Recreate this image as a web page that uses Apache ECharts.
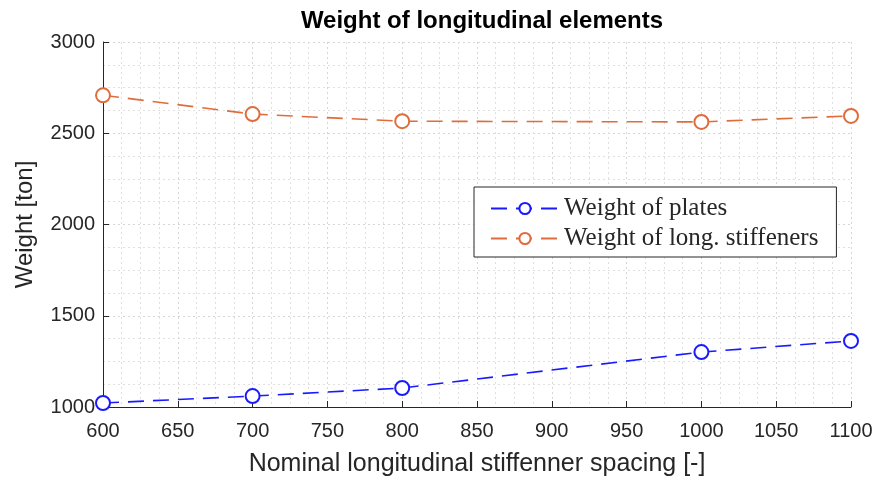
<!DOCTYPE html>
<html><head><meta charset="utf-8">
<script src="https://cdn.jsdelivr.net/npm/echarts@6/dist/echarts.min.js"></script>
<style>html,body{margin:0;padding:0;background:#fff}#c{width:877px;height:483px}</style>
</head><body><div id="c"></div>
<script>
const spacing = [600, 700, 800, 1000, 1100];
const platesWeight = [1022, 1060, 1104, 1301, 1362];
const stiffenersWeight = [2708, 2605, 2566, 2562, 2595];
const seriesNames = ['Weight of plates', 'Weight of long. stiffeners'];
const titleText = 'Weight of longitudinal elements';
const xAxisName = 'Nominal longitudinal stiffenner spacing [-]';
const yAxisName = 'Weight [ton]';

const chart = echarts.init(document.getElementById('c'));
const sans = 'Liberation Sans, Arial, sans-serif';
const axisCommon = {
  axisLine: {show: true, lineStyle: {color: '#262626', width: 1}},
  axisTick: {show: true, inside: true, length: 6, lineStyle: {color: '#262626'}},
  axisLabel: {color: '#262626', fontFamily: sans, fontSize: 20, formatter: v => String(v)},
  splitLine: {show: true, lineStyle: {color: '#d6d6d6', type: [2, 3], width: 1}},
  minorTick: {show: false, splitNumber: 4},
  minorSplitLine: {show: true, lineStyle: {color: '#e0e0e0', type: [2, 3], width: 1}},
  nameTextStyle: {color: '#262626', fontFamily: sans, fontSize: 24}
};
function mk(name, data, color) {
  return {
    name: name, type: 'line',
    data: spacing.map((x, i) => [x, data[i]]),
    symbol: 'emptyCircle', symbolSize: 14,
    showSymbol: true,
    lineStyle: {color: color, width: 1.6, type: [16, 9]},
    itemStyle: {color: color, borderColor: color, borderWidth: 1.6},
    emphasis: {disabled: true}
  };
}
chart.setOption({
  animation: false,
  backgroundColor: '#fff',
  title: {text: titleText, left: 477, top: 4, textAlign: 'center',
    textStyle: {fontFamily: sans, fontSize: 24, fontWeight: 'bold', color: '#000'}},
  grid: {left: 103, right: 26, top: 42, bottom: 76},
  legend: {
    orient: 'vertical', left: 474, top: 187,
    padding: [9, 18, 6, 16], itemGap: 5,
    itemWidth: 68, itemHeight: 14,
    borderColor: '#262626', borderWidth: 1, backgroundColor: '#fff', borderRadius: 0,
    textStyle: {fontFamily: 'Liberation Serif, Times New Roman, serif', fontSize: 25, color: '#262626'},
    data: seriesNames
  },
  xAxis: Object.assign({}, axisCommon, {
    type: 'value', min: 600, max: 1100, interval: 50,
    name: xAxisName, nameLocation: 'middle', nameGap: 45,
    nameTextStyle: Object.assign({}, axisCommon.nameTextStyle, {fontSize: 25}),
    axisLabel: Object.assign({}, axisCommon.axisLabel, {margin: 14})
  }),
  yAxis: Object.assign({}, axisCommon, {
    type: 'value', min: 1000, max: 3000, interval: 500,
    name: yAxisName, nameLocation: 'middle', nameGap: 66,
    axisLabel: Object.assign({}, axisCommon.axisLabel, {margin: 8})
  }),
  series: [
    mk(seriesNames[0], platesWeight, '#1a1aff'),
    mk(seriesNames[1], stiffenersWeight, '#e06c3c')
  ]
});
</script></body></html>
